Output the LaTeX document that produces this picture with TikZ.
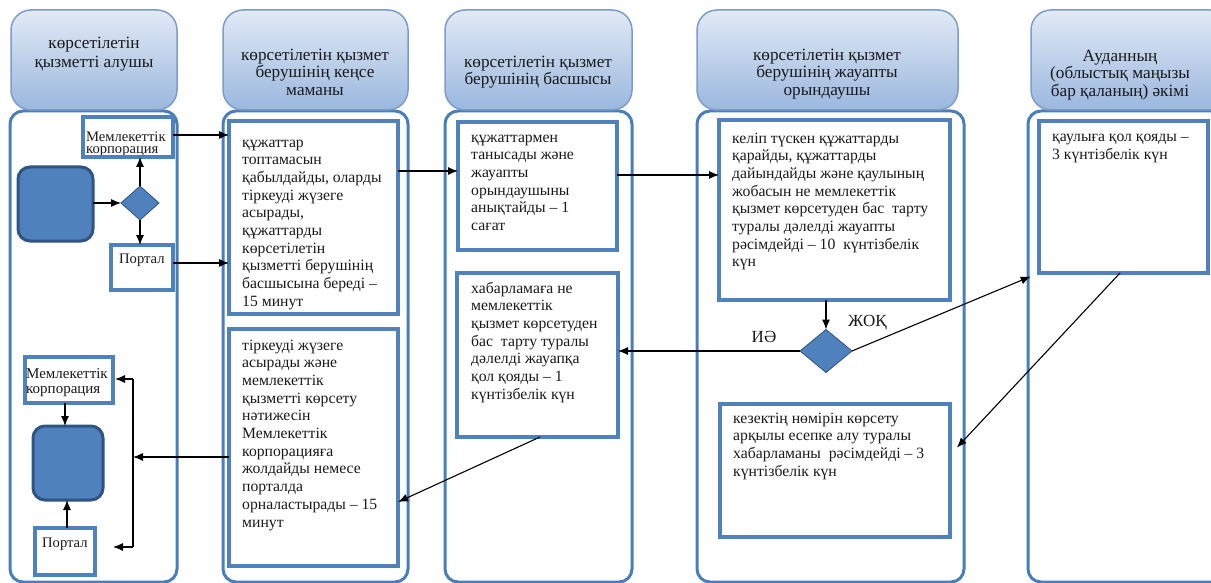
\documentclass[tikz,border=0pt]{standalone}
\usepackage{fontspec}
\setmainfont{Liberation Serif}
\usetikzlibrary{arrows.meta,shapes.geometric}
\definecolor{boxblue}{HTML}{4F81BD}
\definecolor{lanebd}{HTML}{4A7EBB}
\definecolor{hdrtop}{HTML}{E2EAF5}
\definecolor{hdrbot}{HTML}{9AB7DE}
\definecolor{hdrbd}{HTML}{7C9DCB}
\definecolor{sqbd}{HTML}{2F5382}
\definecolor{txt}{HTML}{1A1A1A}
\newcommand\mytightlines{\lineskiplimit=-30pt\relax\lineskip=0pt\relax}
\tikzset{
  hdr/.style={draw=hdrbd, line width=1.5pt, rounded corners=20pt, top color=hdrtop, bottom color=hdrbot},
  lanebody/.style={draw=lanebd, line width=3pt, rounded corners=13pt, fill=white},
  box/.style={draw=boxblue, line width=4pt, fill=white, rectangle, inner sep=0pt, outer sep=0pt},
  sbox/.style={draw=boxblue, line width=3.5pt, fill=white, rectangle, inner sep=0pt, outer sep=0pt},
  sq/.style={draw=sqbd, line width=3pt, fill=boxblue, rectangle, rounded corners=12pt, inner sep=0pt, outer sep=0pt},
  dia/.style={draw=sqbd, line width=0.8pt, fill=boxblue, diamond, inner sep=0pt, outer sep=0pt},
  btxt/.style={font=\fontsize{15.7}{17.7}\selectfont, text=txt, align=left, anchor=base west, inner sep=0pt},
  stxt/.style={font=\fontsize{14.6}{13}\selectfont\mytightlines, text=txt, align=left, anchor=base west, inner sep=0pt},
  htxt/.style={font=\fontsize{17.2}{17.5}\selectfont, text=txt, align=center, inner sep=0pt},
  arr/.style={draw=black, line width=1.1pt, -{Latex[length=10pt,width=8pt]}},
  ln/.style={draw=black, line width=1.1pt}
}
\begin{document}
\begin{tikzpicture}[x=1pt,y=-1pt]
\useasboundingbox (0,0) rectangle (1211,583);
% lane bodies
\path[lanebody] (10,111) rectangle (177,582);
\path[lanebody] (223,111) rectangle (408,582);
\path[lanebody] (445,111) rectangle (632,582);
\path[lanebody] (697,111) rectangle (964,582);
\path[lanebody] (1028,111) rectangle (1230,582);
% headers
\path[hdr] (11,10) rectangle (177,110);
\path[hdr] (223,10) rectangle (408,110);
\path[hdr] (445,10) rectangle (632,110);
\path[hdr] (697,10) rectangle (958,110);
\path[hdr] (1031,10) rectangle (1230,110);
\node[htxt, font=\fontsize{17.2}{19.5}\selectfont] (h1) at (94,54) {көрсетілетін\\қызметті алушы};
\node[htxt] (h2) at (315,72) {көрсетілетін қызмет\\берушінің кеңсе\\маманы};
\node[htxt] (h3) at (538,72) {көрсетілетін қызмет\\берушінің басшысы};
\node[htxt] (h4) at (827,74) {көрсетілетін қызмет\\берушінің жауапты\\орындаушы};
\node[htxt] (h5) at (1120,75) {Ауданның\\(облыстық маңызы\\бар қаланың) әкімі};

% lane 1 top
\node[sbox, minimum width=90pt, minimum height=40pt] (mk1) at (128,137) {};
\node[stxt] (mk1t) at (86,154) {Мемлекеттік\\корпорация};
\draw[boxblue, line width=3.5pt] (mk1.south west) -- (mk1.south east);
\node[sq, minimum width=75pt, minimum height=74pt] (sq1) at (55.5,204) {};
\node[dia, minimum width=38pt, minimum height=34pt] (d1) at (140,203) {};
\node[sbox, minimum width=62pt, minimum height=45pt] (pt1) at (142,267.5) {};
\node[stxt] (pt1t) at (119,263) {Портал};

% lane 2
\node[box, minimum width=169pt, minimum height=193pt] (A) at (313.5,217.5) {};
\node[btxt] (At) at (242,306.3) {құжаттар\\топтамасын\\қабылдайды, оларды\\тіркеуді жүзеге\\асырады,\\құжаттарды\\көрсетілетін\\қызметті берушінің\\басшысына береді –\\15 минут};
\draw[boxblue, line width=4pt] (A.south west) -- (A.south east);
\node[box, minimum width=169pt, minimum height=237pt] (B) at (313.5,447.5) {};
\node[btxt] (Bt) at (242,527) {тіркеуді жүзеге\\асырады және\\мемлекеттік\\қызметті көрсету\\нәтижесін\\Мемлекеттік\\корпорацияға\\жолдайды немесе\\порталда\\орналастырады – 15\\минут};

% lane 3
\node[box, minimum width=159pt, minimum height=128pt] (C) at (537.5,186) {};
\node[btxt] (Ct) at (471,230.5) {құжаттармен\\танысады және\\жауапты\\орындаушыны\\анықтайды – 1\\сағат};
\node[box, minimum width=161pt, minimum height=164pt] (D) at (537.5,355) {};
\node[btxt] (Dt) at (471,399.2) {хабарламаға не\\мемлекеттік\\қызмет көрсетуден\\бас\ \ тарту туралы\\дәлелді жауапқа\\қол қояды – 1\\күнтізбелік күн};

% lane 4
\node[box, minimum width=231pt, minimum height=180pt] (E) at (834.5,210) {};
\node[btxt] (Et) at (732,266.9) {келіп түскен құжаттарды\\қарайды, құжаттарды\\дайындайды және қаулының\\жобасын не мемлекеттік\\қызмет көрсетуден бас\ \ тарту\\туралы дәлелді жауапты\\рәсімдейді – 10\ \ күнтізбелік\\күн};
\node[dia, minimum width=52pt, minimum height=43pt] (d2) at (826,351) {};
\node[font=\fontsize{17}{18}\selectfont, text=txt, inner sep=0pt] (yes) at (764,337) {ИӘ};
\node[font=\fontsize{17}{18}\selectfont, text=txt, inner sep=0pt, anchor=west] (no) at (848,323) {ЖОҚ};
\node[box, minimum width=230pt, minimum height=133pt] (F) at (835,470.5) {};
\node[btxt] (Ft) at (733,476.1) {кезектің нөмірін көрсету\\арқылы есепке алу туралы\\хабарламаны\ \ рәсімдейді – 3\\күнтізбелік күн};

% lane 5
\node[box, minimum width=169pt, minimum height=152pt] (G) at (1123.5,197) {};
\node[btxt] (Gt) at (1052,159.7) {қаулыға қол қояды –\\3 күнтізбелік күн};

% lane 1 bottom
\node[sbox, minimum width=88pt, minimum height=46pt] (mk2) at (69,380) {};
\node[stxt, font=\fontsize{15}{15}\selectfont] (mk2t) at (26,393) {Мемлекеттік\\корпорация};
\node[sq, minimum width=70pt, minimum height=74pt] (sq2) at (68,463) {};
\node[sbox, minimum width=60pt, minimum height=47pt] (pt2) at (65,551.5) {};
\node[stxt] (pt2t) at (42,547) {Портал};
\coordinate (b1) at (133,379);
\coordinate (b2) at (133,547);
\coordinate (bm) at (133,457);

% connectors
\draw[arr] (mk1.east |- 0,135) -- (A.west |- 0,135);
\draw[arr] (pt1.east |- 0,263) -- (A.west |- 0,263);
\draw[arr] (sq1.east |- d1.west) -- (d1.west);
\draw[arr] (d1.north) -- (mk1.south -| d1.north);
\draw[arr] (d1.south) -- (pt1.north -| d1.south);
\draw[arr] (A.east |- 0,171) -- (C.west |- 0,171);
\draw[arr] (C.east |- 0,175) -- (E.west |- 0,175);
\draw[arr] (E.south -| d2.north) -- (d2.north);
\draw[arr] (d2.west) -- (D.east |- d2.west);
\draw[arr, shorten >=9pt] (d2.east) -- (G.south west);
\draw[arr, shorten >=10pt] (G.south -| 1120,0) -- (F.east |- 0,455);
\draw[arr] (D.south -| 540,0) -- (B.east |- 0,502);
\draw[arr] (B.west |- bm) -- (bm);
\draw[ln] (b1) -- (b2);
\draw[arr, shorten >=2pt] (b1) -- (mk2.east |- b1);
\draw[arr, shorten >=18pt] (b2) -- (pt2.east |- b2);
\draw[arr] (mk2.south -| 65,0) -- (sq2.north -| 65,0);
\draw[arr] (pt2.north -| 67,0) -- (sq2.south -| 67,0);
\end{tikzpicture}
\end{document}
